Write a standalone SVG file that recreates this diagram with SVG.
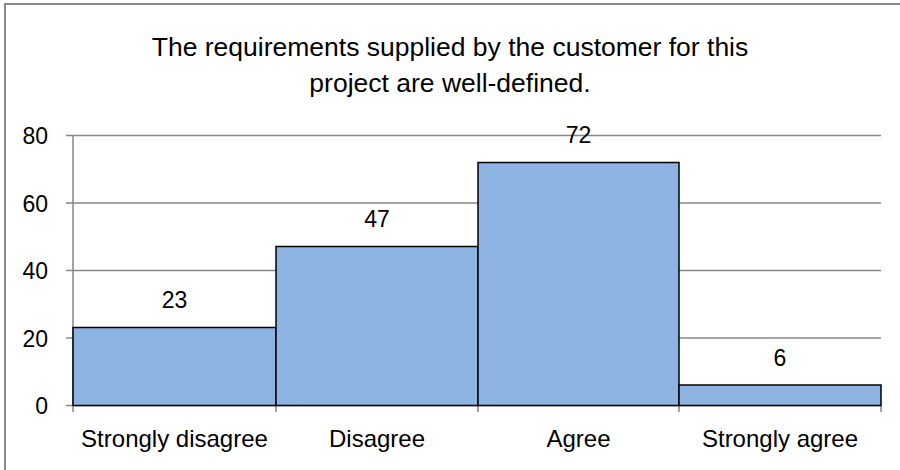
<svg xmlns="http://www.w3.org/2000/svg" width="900" height="470" viewBox="0 0 900 470">
<style>
text{font-family:"Liberation Sans",Arial,sans-serif;fill:#000}
.title{font-size:26.5px;text-anchor:middle}
.lbl{font-size:24px;text-anchor:middle}
.val{font-size:23px;text-anchor:middle}
.ytk{font-size:23px;text-anchor:end}
.grid{stroke:#868686;stroke-width:1.5}
.bar{fill:#8db3e2;stroke:#000;stroke-width:1.5}
</style>
<rect width="900" height="470" fill="#fff"/>
<path d="M5 470 V4 H900" fill="none" stroke="#888" stroke-width="2"/>
<g id="title">
<text class="title" x="450" y="55.5">The requirements supplied by the customer for this</text>
<text class="title" x="450" y="91.5">project are well-defined.</text>
</g>
<g id="axes">
<line class="grid" x1="66" y1="135.5" x2="881" y2="135.5"/>
<line class="grid" x1="66" y1="203" x2="881" y2="203"/>
<line class="grid" x1="66" y1="270.5" x2="881" y2="270.5"/>
<line class="grid" x1="66" y1="338" x2="881" y2="338"/>
<line class="grid" x1="66" y1="405.5" x2="881" y2="405.5"/>
<line class="grid" x1="73" y1="135.5" x2="73" y2="412"/>
<line class="grid" x1="276" y1="405.5" x2="276" y2="412"/>
<line class="grid" x1="478" y1="405.5" x2="478" y2="412"/>
<line class="grid" x1="679" y1="405.5" x2="679" y2="412"/>
<line class="grid" x1="881" y1="405.5" x2="881" y2="412"/>
<text class="ytk" x="48" y="144">80</text>
<text class="ytk" x="48" y="211.5">60</text>
<text class="ytk" x="48" y="279">40</text>
<text class="ytk" x="48" y="346.5">20</text>
<text class="ytk" x="48" y="414">0</text>
</g>
<g id="bar-strongly-disagree">
<rect class="bar" x="73" y="327.5" width="203" height="78"/>
<text class="val" x="174.5" y="308">23</text>
<text class="lbl" x="174.5" y="447">Strongly disagree</text>
</g>
<g id="bar-disagree">
<rect class="bar" x="276" y="246.5" width="202" height="159"/>
<text class="val" x="377" y="227">47</text>
<text class="lbl" x="377" y="447">Disagree</text>
</g>
<g id="bar-agree">
<rect class="bar" x="478" y="162.5" width="201" height="243"/>
<text class="val" x="578.5" y="143">72</text>
<text class="lbl" x="578.5" y="447">Agree</text>
</g>
<g id="bar-strongly-agree">
<rect class="bar" x="679" y="385" width="202" height="20.5"/>
<text class="val" x="780" y="366">6</text>
<text class="lbl" x="780" y="447">Strongly agree</text>
</g>
</svg>
